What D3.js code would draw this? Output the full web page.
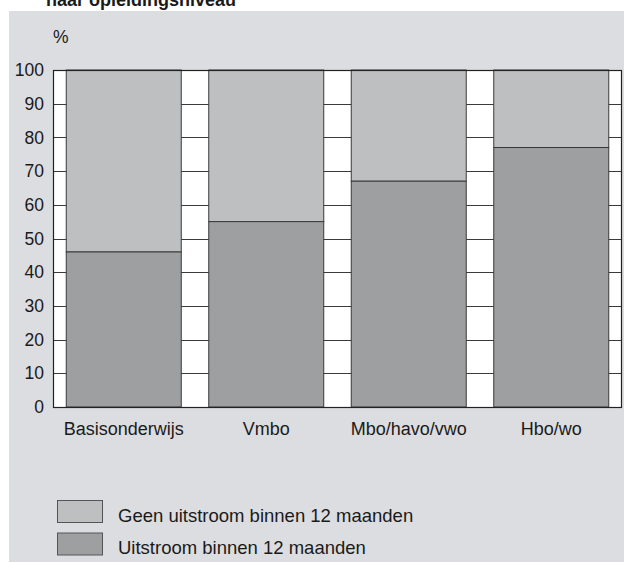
<!DOCTYPE html>
<html>
<head>
<meta charset="utf-8">
<script src="https://cdn.jsdelivr.net/npm/d3@7"></script>
<style>
html,body{margin:0;padding:0;background:#fff;}
svg{display:block;}
text{font-family:"Liberation Sans", Arial, Helvetica, sans-serif;fill:#1a1a1a;}
</style>
</head>
<body>
<svg id="chart" width="624" height="563"></svg>
<script>
const categories = ["Basisonderwijs", "Vmbo", "Mbo/havo/vwo", "Hbo/wo"];
const uitstroom = [46, 55, 67, 77];
const geenUitstroom = [54, 45, 33, 23];
const yTicks = [0, 10, 20, 30, 40, 50, 60, 70, 80, 90, 100];
const seriesNames = ["Geen uitstroom binnen 12 maanden", "Uitstroom binnen 12 maanden"];
const titleText = "naar opleidingsniveau";
const unitLabel = "%";

(function () {
const colLight = "#bebfc1", colDark = "#9e9fa1", bg = "#dcdde0", stroke = "#3a3a3a";
const svg = d3.select("#chart");

// background panel
svg.append("rect").attr("x", 9).attr("y", 11).attr("width", 615).attr("height", 551).attr("fill", bg);

// title (cut off at top, as in the reference)
svg.append("text").attr("x", 46).attr("y", 6).attr("font-size", 18).attr("font-weight", "bold").text(titleText);

const pL = 53, pR = 622, pT = 70, pB = 407;
const x = d3.scaleBand().domain(categories).range([pL, pR]).paddingInner(0.193).paddingOuter(0.093);
const y = d3.scaleLinear().domain([0, 100]).range([pB, pT]);

// plot area
svg.append("rect").attr("x", pL).attr("y", pT).attr("width", pR - pL).attr("height", pB - pT).attr("fill", "#fff");

// gridlines
svg.append("g").selectAll("line").data(yTicks.filter(d => d > 0 && d < 100)).join("line")
  .attr("x1", pL).attr("x2", pR)
  .attr("y1", d => Math.round(y(d)) + 0.5).attr("y2", d => Math.round(y(d)) + 0.5)
  .attr("stroke", stroke).attr("stroke-width", 1);

// bars
const data = categories.map((c, i) => ({c, u: uitstroom[i], g: geenUitstroom[i]}));
const gb = svg.append("g");
gb.selectAll("rect.g").data(data).join("rect").attr("class", "g")
  .attr("x", d => x(d.c)).attr("width", x.bandwidth())
  .attr("y", d => y(d.u + d.g)).attr("height", d => y(d.u) - y(d.u + d.g))
  .attr("fill", colLight).attr("stroke", stroke).attr("stroke-width", 1);
gb.selectAll("rect.u").data(data).join("rect").attr("class", "u")
  .attr("x", d => x(d.c)).attr("width", x.bandwidth())
  .attr("y", d => y(d.u)).attr("height", d => y(0) - y(d.u))
  .attr("fill", colDark).attr("stroke", stroke).attr("stroke-width", 1);

// frame
svg.append("rect").attr("x", pL + 0.5).attr("y", pT + 0.5).attr("width", pR - pL - 1).attr("height", pB - pT)
  .attr("fill", "none").attr("stroke", "#222").attr("stroke-width", 1.2);

// y axis labels
const yAxis = d3.axisLeft(y).tickValues(yTicks).tickSize(0).tickPadding(9);
const ya = svg.append("g").attr("transform", `translate(${pL},0)`).call(yAxis);
ya.select(".domain").remove();
ya.selectAll("text").attr("font-size", 17.5).attr("fill", "#1a1a1a").style("font-family", '"Liberation Sans", Arial, sans-serif');

svg.append("text").attr("x", 53).attr("y", 43).attr("font-size", 17.5).text(unitLabel);

// x axis labels
const xAxis = d3.axisBottom(x).tickSize(0).tickPadding(0);
const xa = svg.append("g").attr("transform", `translate(0,${pB})`).call(xAxis);
xa.select(".domain").remove();
xa.selectAll("text").attr("font-size", 18).attr("dy", null).attr("y", 28).attr("fill", "#1a1a1a")
  .style("font-family", '"Liberation Sans", Arial, sans-serif');

// legend
const legendColors = [colLight, colDark];
const lg = svg.append("g");
seriesNames.forEach((n, i) => {
  lg.append("rect").attr("x", 57.5).attr("y", 500.5 + i * 32.5).attr("width", 45).attr("height", 22)
    .attr("fill", legendColors[i]).attr("stroke", "#555").attr("stroke-width", 1);
  lg.append("text").attr("x", 118).attr("y", 522 + i * 32).attr("font-size", 18.5).text(n);
});
})();
</script>
</body>
</html>
